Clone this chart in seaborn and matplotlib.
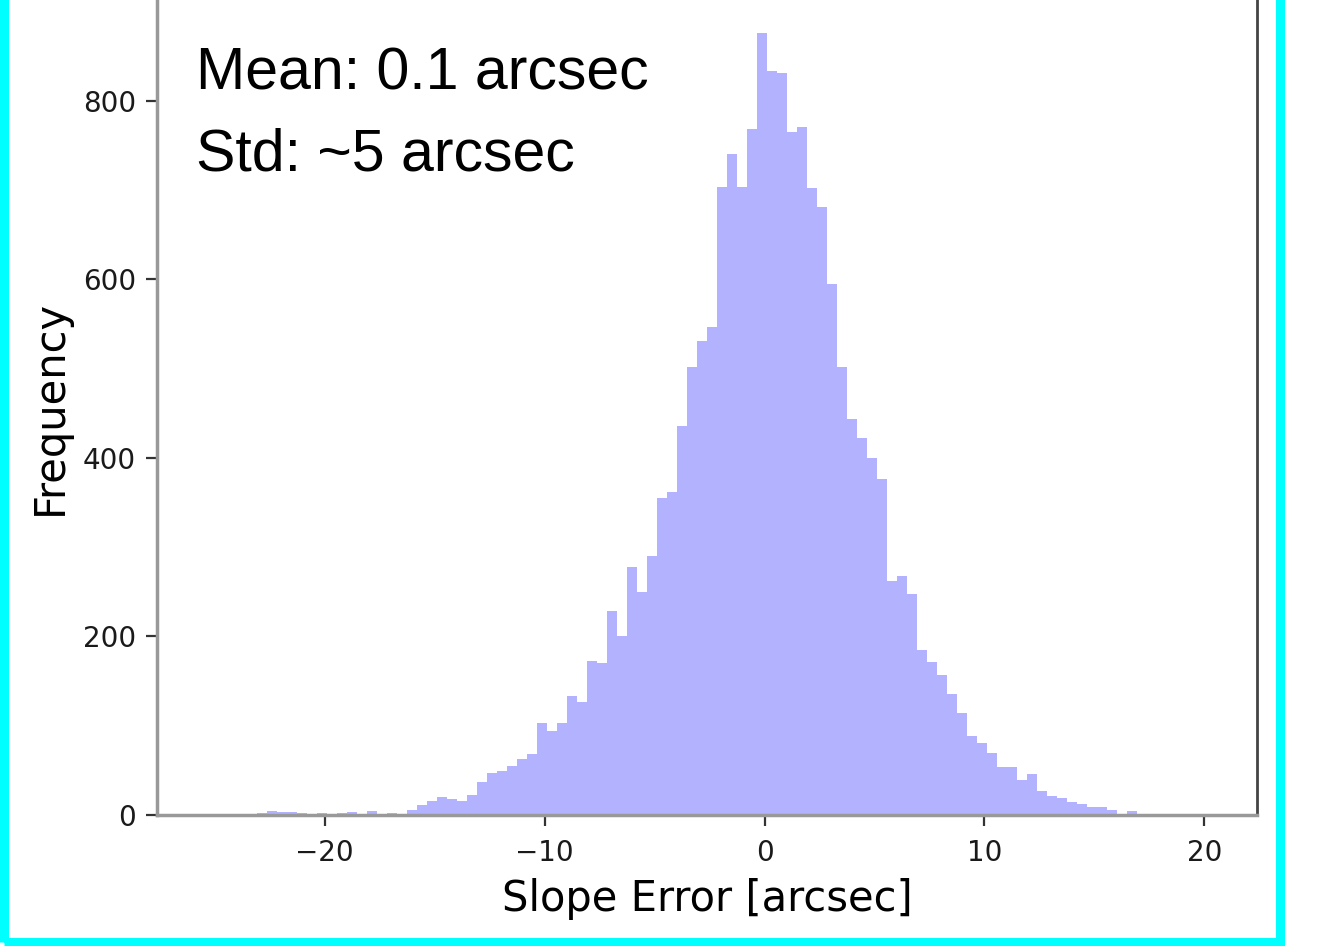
import numpy as np
import pandas as pd
import matplotlib
matplotlib.use("Agg")
import matplotlib.pyplot as plt
import matplotlib.patches as mpatches
import seaborn as sns

# ---- data ----
x_min = -25.35
x_max = 20.12
counts = [1, 0, 1, 1, 0, 2, 4, 3, 3, 2,
          0, 2, 1, 2, 3, 1, 5, 0, 2, 1,
          6, 11, 16, 20, 18, 16, 22, 37, 47, 49,
          55, 63, 68, 103, 94, 103, 133, 127, 173, 170,
          229, 200, 278, 250, 290, 355, 362, 436, 502, 531,
          547, 703, 740, 703, 769, 876, 833, 831, 765, 771,
          702, 681, 595, 502, 444, 422, 400, 376, 262, 268,
          248, 185, 171, 157, 135, 114, 88, 81, 69, 54,
          54, 39, 46, 27, 21, 19, 15, 12, 9, 9,
          6, 1, 4, 1, 0, 0, 0, 0, 0, 1]
x_ticks = [-20, -10, 0, 10, 20]
y_ticks = [0, 200, 400, 600, 800]
x_label = "Slope Error [arcsec]"
y_label = "Frequency"
annotations = ["Mean: 0.1 arcsec", "Std: ~5 arcsec"]

sns.set_style("white")
plt.rcParams['font.family'] = ['DejaVu Sans']

fig = plt.figure(figsize=(13.36, 9.46), dpi=100)
ax = fig.add_axes([0.1175, 0.1385, 0.8234, 0.8615])

n_bins = len(counts)
width = (x_max - x_min) / n_bins
centers = x_min + width * (np.arange(n_bins) + 0.5)
df = pd.DataFrame({"slope_error": centers, "count": counts})
sns.histplot(data=df, x="slope_error", weights="count", bins=n_bins,
             binrange=(x_min, x_max), element="step", fill=True,
             color="blue", alpha=0.3, linewidth=0, ax=ax)

span = x_max - x_min
ax.set_xlim(x_min - 0.05 * span, x_max + 0.05 * span)
ax.set_ylim(0, 913)
ax.set_xticks(x_ticks)
ax.set_yticks(y_ticks)
ax.set_xticklabels([str(t).replace("-", "\u2212") for t in x_ticks])
ax.tick_params(axis="both", which="major", direction="out", length=8, width=1.6,
               color="#333333", labelsize=20, labelcolor="#1a1a1a",
               bottom=True, left=True)
ax.tick_params(axis="x", pad=9)
ax.tick_params(axis="y", pad=7)
ax.set_xlabel(x_label, fontsize=30, labelpad=8, color="black")
ax.set_ylabel(y_label, fontsize=30, labelpad=9, color="black")

ax.spines["top"].set_visible(False)
for s in ["left", "bottom"]:
    ax.spines[s].set_color("#999999")
    ax.spines[s].set_linewidth(2.5)
ax.spines["right"].set_color("#444444")
ax.spines["right"].set_linewidth(2.0)

ax.text(0.0355, 0.8896, annotations[0], transform=ax.transAxes, fontsize=42.5,
        family="Liberation Sans", va="baseline", ha="left", color="black")
ax.text(0.0355, 0.7914, annotations[1], transform=ax.transAxes, fontsize=42.5,
        family="Liberation Sans", va="baseline", ha="left", color="black")

# cyan frame around the figure panel
border = mpatches.Rectangle((3.5 / 1336, 4 / 946), (1280 - 3.5) / 1336, 1.2,
                            transform=fig.transFigure, fill=False,
                            edgecolor="#00ffff", linewidth=6.5, clip_on=False)
fig.patches.append(border)

fig.savefig("out.png", dpi=100, facecolor="white")
